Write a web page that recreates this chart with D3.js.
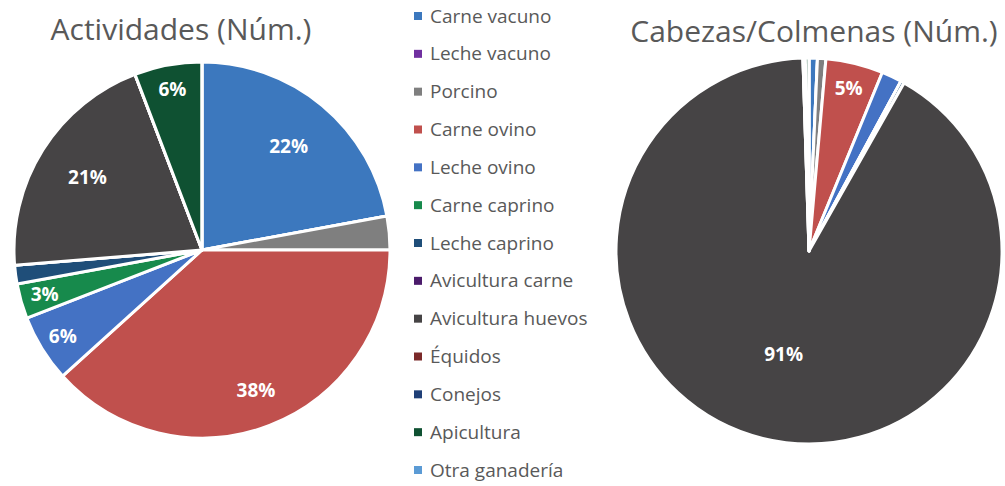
<!DOCTYPE html>
<html lang="es">
  <head>
    <meta charset="utf-8">
    <title>Actividades y cabezas</title>
    <script src="https://d3js.org/d3.v7.min.js"></script>
    <style>
      body { margin: 0; background: #fff; }
      svg text { font-family: "Open Sans", sans-serif; }
      .title { font-size: 30px; fill: #595959; }
      .legendText { font-size: 19px; fill: #595959; }
      .sliceLabel { font-size: 19px; font-weight: bold; fill: #fff; }
    </style>
  </head>
  <body>
    <div id="chart"></div>
    <script>

      var categories = ["Carne vacuno", "Leche vacuno", "Porcino", "Carne ovino", "Leche ovino",
        "Carne caprino", "Leche caprino", "Avicultura carne", "Avicultura huevos", "Équidos",
        "Conejos", "Apicultura", "Otra ganadería"];

      var colors = ["#3c78be", "#7030a0", "#7f7f7f", "#c0504d", "#4472c4",
        "#178a4c", "#1f4e79", "#4b1b6b", "#464445", "#7b2a2a",
        "#1f3f77", "#0f5132", "#5b9bd5"];

      // % of total
      var actividades = [22.1, 0, 2.9, 38.3, 5.8, 3.0, 1.6, 0, 20.5, 0, 0, 5.8, 0];
      var cabezas = [0.7, 0, 0.7, 4.8, 1.7, 0, 0.3, 0, 91.3, 0, 0.2, 0.3, 0];

      var width = 1005;
      var height = 486;

      var svg = d3.select("#chart")
        .append("svg")
        .attr("width", width)
        .attr("height", height);

      var pie = d3.pie().sort(null).value(function(d){return d;});

      function drawPie(values, cx, cy, r, title, titleX, titleY){
        var g = svg.append("g")
          .attr("transform", `translate(${cx},${cy})`);

        var arc = d3.arc().innerRadius(0).outerRadius(r);
        var arcs = pie(values);
        var total = d3.sum(values);

        g.selectAll("path")
          .data(arcs)
          .enter()
          .append("path")
            .attr("d", arc)
            .attr("fill", function(d, i){return colors[i];})
            .attr("stroke", "#ffffff")
            .attr("stroke-width", 3)
            .attr("stroke-linejoin", "round");

        // only slices big enough get a label
        g.selectAll(".sliceLabel")
          .data(arcs.filter(function(d){return d.value / total >= 0.0295;}))
          .enter()
          .append("text")
            .attr("class", "sliceLabel")
            .attr("text-anchor", "middle")
            .attr("dy", "0.35em")
            .attr("transform", function(d){
              var p = d.value / total;
              var k = p < 0.1 ? 0.87 : (p > 0.5 ? 0.55 : (p > 0.3 ? 0.8 : 0.72));
              var a = (d.startAngle + d.endAngle) / 2;
              return `translate(${Math.sin(a) * r * k},${-Math.cos(a) * r * k})`;
            })
            .text(function(d){return Math.round(d.value / total * 100) + "%";});

        svg.append("text")
          .attr("class", "title")
          .attr("x", titleX)
          .attr("y", titleY)
          .attr("text-anchor", "middle")
          .text(title);
      }

      drawPie(actividades, 202, 250, 188, "Actividades (Núm.)", 181, 40);
      drawPie(cabezas, 809, 251, 193, "Cabezas/Colmenas (Núm.)", 814, 42);

      var legendY = d3.scalePoint()
        .domain(categories)
        .range([16, 470]);

      var legend = svg.selectAll(".legendItem")
        .data(categories)
        .enter()
        .append("g")
          .attr("class", "legendItem")
          .attr("transform", function(d){return `translate(414,${legendY(d)})`;});

      legend.append("rect")
        .attr("x", 0)
        .attr("y", -4)
        .attr("width", 8)
        .attr("height", 8)
        .attr("fill", function(d, i){return colors[i];});

      legend.append("text")
        .attr("class", "legendText")
        .attr("x", 16)
        .attr("dy", "0.35em")
        .text(function(d){return d;});

    </script>
  </body>
</html>
